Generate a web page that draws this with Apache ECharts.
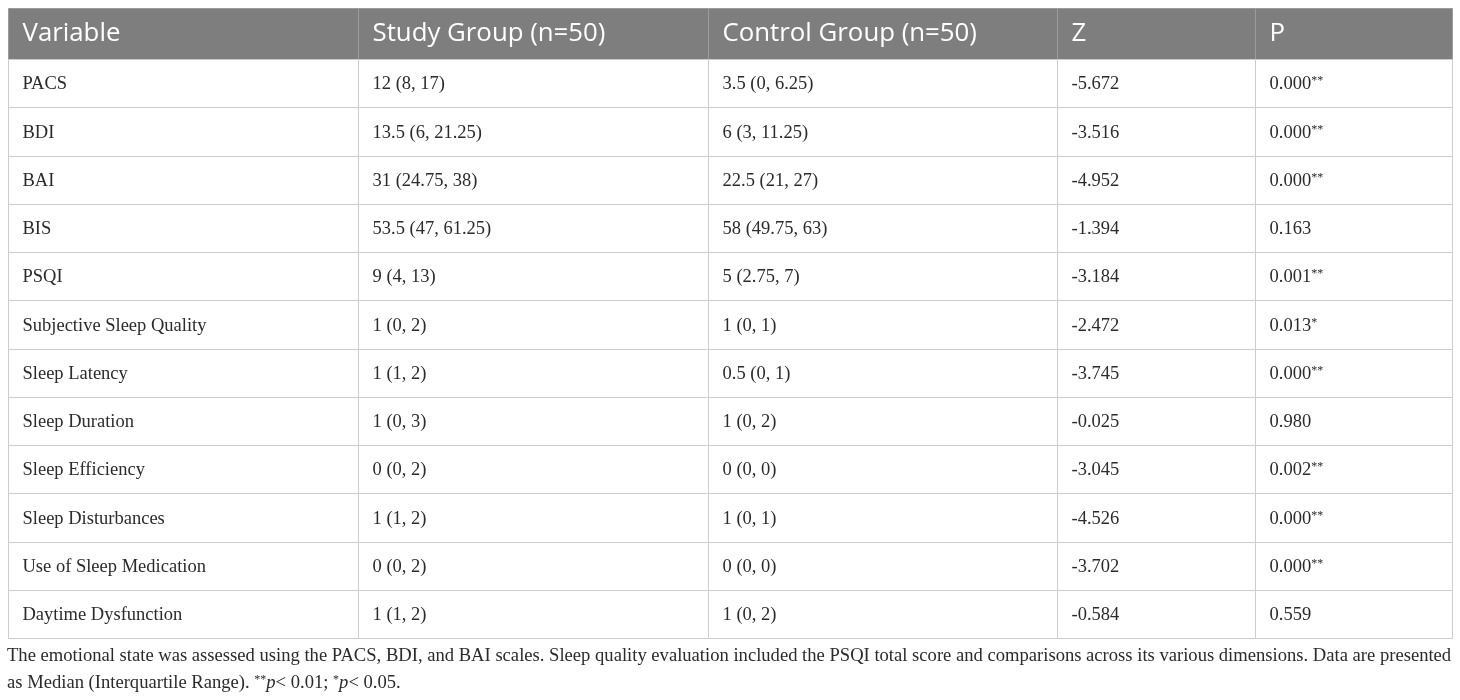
<!DOCTYPE html>
<html><head><meta charset="utf-8">
<script src="https://cdn.jsdelivr.net/npm/echarts@6/dist/echarts.min.js"></script>
<style>html,body{margin:0;padding:0;background:#fff}#c{width:1460px;height:700px}</style>
</head><body><div id="c"></div>
<script>
// ---- data ----
const columns = ['Variable', 'Study Group (n=50)', 'Control Group (n=50)', 'Z', 'P'];
const variables = ['PACS', 'BDI', 'BAI', 'BIS', 'PSQI', 'Subjective Sleep Quality', 'Sleep Latency',
  'Sleep Duration', 'Sleep Efficiency', 'Sleep Disturbances', 'Use of Sleep Medication', 'Daytime Dysfunction'];
const studyGroup = ['12 (8, 17)', '13.5 (6, 21.25)', '31 (24.75, 38)', '53.5 (47, 61.25)', '9 (4, 13)',
  '1 (0, 2)', '1 (1, 2)', '1 (0, 3)', '0 (0, 2)', '1 (1, 2)', '0 (0, 2)', '1 (1, 2)'];
const controlGroup = ['3.5 (0, 6.25)', '6 (3, 11.25)', '22.5 (21, 27)', '58 (49.75, 63)', '5 (2.75, 7)',
  '1 (0, 1)', '0.5 (0, 1)', '1 (0, 2)', '0 (0, 0)', '1 (0, 1)', '0 (0, 0)', '1 (0, 2)'];
const zValues = ['-5.672', '-3.516', '-4.952', '-1.394', '-3.184', '-2.472', '-3.745', '-0.025', '-3.045',
  '-4.526', '-3.702', '-0.584'];
const pValues = ['0.000**', '0.000**', '0.000**', '0.163', '0.001**', '0.013*', '0.000**', '0.980',
  '0.002**', '0.000**', '0.000**', '0.559'];
const footLine1 = 'The emotional state was assessed using the PACS, BDI, and BAI scales. Sleep quality evaluation included the PSQI total score and comparisons across its various dimensions. Data are presented';
const footLine2 = 'as Median (Interquartile Range). {sup|**}{it|p}< 0.01; {sup|*}{it|p}< 0.05.';

// ---- layout (style only) ----
const colWidths = [350, 350, 349, 198, 197];
const headerH = 51, rowH = 48.25;
const tableW = colWidths.reduce((a, b) => a + b, 0);
const tableH = headerH + rowH * variables.length;
const colEdges = [0];
colWidths.forEach(w => colEdges.push(colEdges[colEdges.length - 1] + w));
const rowEdges = [0, headerH];
variables.forEach((_, i) => rowEdges.push(headerH + rowH * (i + 1)));

const serif = '"Liberation Serif", "DejaVu Serif", serif';
const sans = '"Open Sans", "Noto Sans", sans-serif';

function markP(s) {
  const m = s.match(/^([^*]*)(\*+)$/);
  return m ? m[1] + '{sup|' + m[2] + '}' : s;
}

const cells = [];
columns.forEach((c, j) => cells.push({ col: j, row: 0, text: c, header: true }));
variables.forEach((v, i) => {
  const vals = [v, studyGroup[i], controlGroup[i], zValues[i], markP(pValues[i])];
  vals.forEach((t, j) => cells.push({ col: j, row: i + 1, text: t, header: false }));
});

const chart = echarts.init(document.getElementById('c'), null, { renderer: 'canvas' });
const option = {
  animation: false,
  backgroundColor: '#ffffff',
  grid: { left: 8, top: 8, width: tableW, height: tableH },
  xAxis: { type: 'value', min: 0, max: tableW, show: false },
  yAxis: { type: 'value', min: 0, max: tableH, inverse: true, show: false },
  series: [{
    type: 'custom',
    coordinateSystem: 'cartesian2d',
    data: cells.map(c => [c.col, c.row]),
    renderItem: function (params, api) {
      const c = cells[params.dataIndex];
      const p0 = api.coord([colEdges[c.col], rowEdges[c.row]]);
      const p1 = api.coord([colEdges[c.col + 1], rowEdges[c.row + 1]]);
      const x0 = Math.round(p0[0]) + 0.5, y0 = Math.round(p0[1]) + 0.5;
      const x1 = Math.round(p1[0]) + 0.5, y1 = Math.round(p1[1]) + 0.5;
      return {
        type: 'group',
        children: [{
          type: 'rect',
          shape: { x: x0, y: y0, width: x1 - x0, height: y1 - y0 },
          style: { fill: c.header ? '#7d7e7d' : '#ffffff', stroke: c.header ? '#9a9b9a' : '#cdcdcd', lineWidth: 1 }
        }, {
          type: 'text',
          style: {
            x: x0 + 14, y: (y0 + y1) / 2 + (c.header ? 0 : 1),
            text: c.text,
            fill: c.header ? '#ffffff' : '#2b2b2b',
            fontFamily: c.header ? sans : serif,
            fontSize: c.header ? 25.8 : 18.5,
            verticalAlign: 'middle', align: 'left',
            rich: {
              sup: { fontFamily: serif, fontSize: 12, fill: '#2b2b2b', verticalAlign: 'top', padding: [0, 0, 6, 0] }
            }
          }
        }]
      };
    }
  }],
  graphic: [{
    type: 'text', left: 7, top: 647,
    style: { text: footLine1, fill: '#2b2b2b', fontFamily: serif, fontSize: 18.6 }
  }, {
    type: 'text', left: 7, top: 674,
    style: {
      text: footLine2, fill: '#2b2b2b', fontFamily: serif, fontSize: 18.6,
      rich: {
        sup: { fontFamily: serif, fontSize: 12, fill: '#2b2b2b', verticalAlign: 'top' },
        it: { fontFamily: serif, fontSize: 18.6, fontStyle: 'italic', fill: '#2b2b2b' }
      }
    }
  }]
};
chart.setOption(option);
</script>
</body></html>
